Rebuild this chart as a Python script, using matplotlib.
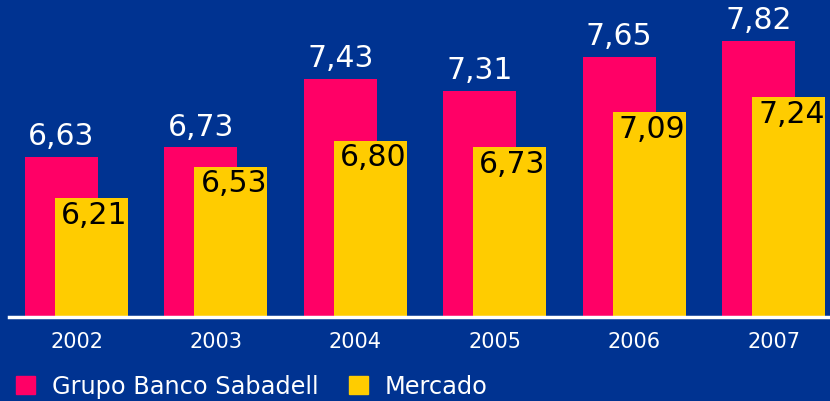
import matplotlib
matplotlib.use("Agg")
import matplotlib.pyplot as plt
from matplotlib.patches import Patch

plt.rcParams["font.family"] = ["DejaVu Sans"]

years = ["2002", "2003", "2004", "2005", "2006", "2007"]
sabadell = [6.63, 6.73, 7.43, 7.31, 7.65, 7.82]
mercado = [6.21, 6.53, 6.80, 6.73, 7.09, 7.24]

bg = "#003391"
pink = "#FF0066"
yellow = "#FFCC00"

step = 139.4  # px between groups
fig = plt.figure(figsize=(8.3, 4.02), dpi=100, facecolor=bg)
# axes spans the whole width, baseline at 318 px from top
ax = fig.add_axes([0, 84 / 402, 1, 318 / 402])
ax.set_facecolor(bg)

x = list(range(len(years)))
off = 15 / step
w = 73 / step
ax.bar([i - off for i in x], sabadell, width=w, color=pink, zorder=2)
ax.bar([i + off for i in x], mercado, width=w, color=yellow, zorder=3)

for i in x:
    ax.annotate(f"{sabadell[i]:.2f}".replace(".", ","), (i - off, sabadell[i]),
                xytext=(0, 5), textcoords="offset points", ha="center", va="bottom",
                color="white", fontsize=21.5, zorder=4)
    ax.annotate(f"{mercado[i]:.2f}".replace(".", ","), (i + off, mercado[i]),
                xytext=(2, -1), textcoords="offset points", ha="center", va="top",
                color="black", fontsize=21.5, zorder=4)

ax.set_xlim(-76.5 / step, (830 - 76.5) / step)
ax.set_ylim(5, 5 + 318 / 98)
ax.axhline(5, xmin=9 / 830, color="white", lw=2.5, zorder=5, clip_on=False)

for s in ax.spines.values():
    s.set_visible(False)
ax.set_yticks([])
ax.set_xticks(x)
ax.set_xticklabels(years, color="white", fontsize=15)
ax.tick_params(axis="x", length=0, pad=10)

handles = [Patch(color=pink, label="Grupo Banco Sabadell"),
           Patch(color=yellow, label="Mercado")]
fig.legend(handles=handles, loc="lower left", bbox_to_anchor=(-0.007, -0.047), ncol=2,
           frameon=False, fontsize=17.3, labelcolor="white", handlelength=0.8,
           handleheight=0.8, handletextpad=0.7, columnspacing=1.25)

fig.savefig("out.png", dpi=100, facecolor=bg)
